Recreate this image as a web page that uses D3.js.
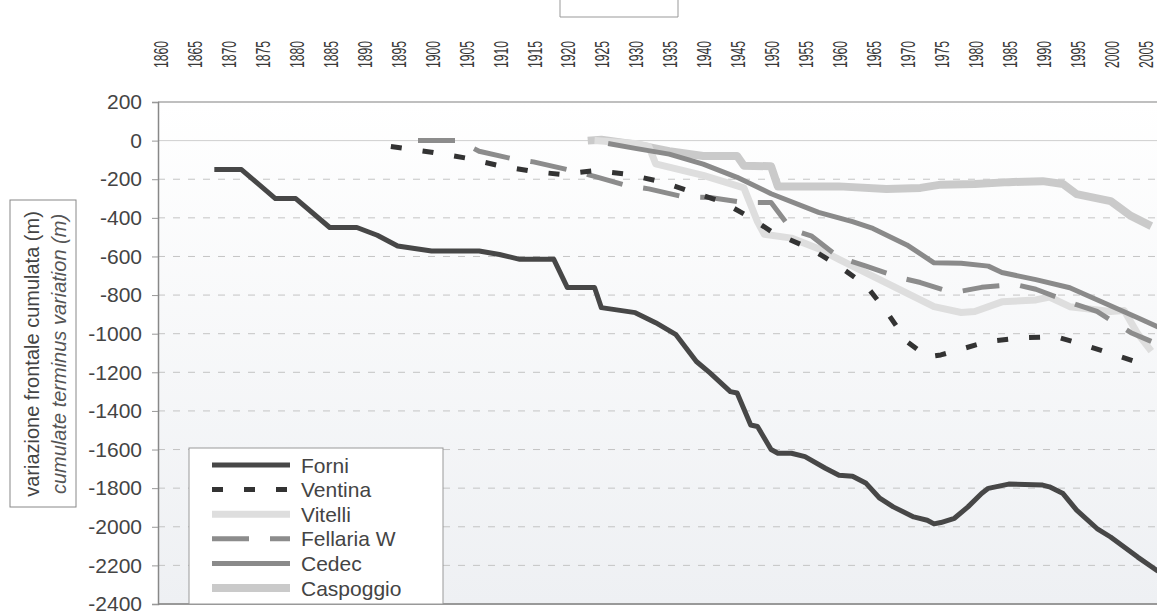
<!DOCTYPE html>
<meta charset="utf-8">
<script src="https://cdn.jsdelivr.net/npm/d3@7"></script>
<style>
  body { margin: 0; background: #fff; }
  text { font-family: "Liberation Sans", Arial, sans-serif; }
</style>
<div id="chart"></div>
<script>

// tick labels
var xTicks = d3.range(1860, 2006, 5);
var yTicks = d3.range(200, -2401, -200);

// series: [year, cumulated frontal variation (m)]
var forni = [[1868,-150],[1872,-150],[1877,-300],[1880,-300],[1885,-450],[1889,-450],[1892,-490],
  [1895,-546],[1900,-572],[1907,-572],[1910,-590],[1913,-615],[1918,-615],[1920,-761],[1924,-761],
  [1925,-865],[1930,-891],[1933,-943],[1936,-1005],[1939,-1144],[1941,-1203],[1944,-1300],[1945,-1307],
  [1947,-1473],[1948,-1481],[1949,-1540],[1950,-1600],[1951,-1619],[1953,-1619],[1955,-1637],
  [1958,-1697],[1960,-1733],[1962,-1738],[1964,-1775],[1966,-1852],[1968,-1897],[1971,-1949],
  [1973,-1966],[1974,-1985],[1975,-1978],[1977,-1956],[1979,-1897],[1981,-1828],[1982,-1801],
  [1985,-1779],[1990,-1784],[1991,-1793],[1993,-1828],[1995,-1914],[1998,-2009],[2000,-2053],
  [2002,-2105],[2004,-2157],[2007,-2230]];

var ventina = [[1894,-30],[1900,-60],[1905,-90],[1910,-130],[1915,-160],[1919,-175],[1924,-155],
  [1929,-175],[1934,-215],[1938,-262],[1943,-320],[1947,-400],[1950,-470],[1956,-563],[1960,-650],
  [1964,-751],[1967,-885],[1970,-1040],[1973,-1120],[1975,-1110],[1978,-1080],[1982,-1040],
  [1987,-1021],[1992,-1016],[1996,-1057],[2001,-1114],[2006,-1170]];

var vitelli = [[1924,0],[1930,-15],[1932,-30],[1933,-120],[1940,-180],[1946,-245],[1948,-420],
  [1949,-485],[1953,-505],[1957,-560],[1960,-615],[1966,-720],[1970,-790],[1974,-860],[1978,-890],
  [1980,-885],[1984,-835],[1989,-825],[1991,-810],[1994,-860],[2000,-885],[2002,-880],[2004,-1000],
  [2006,-1090]];

var fellaria = [[1898,0],[1904,0],[1907,-55],[1912,-95],[1915,-110],[1920,-150],[1924,-185],
  [1929,-235],[1932,-250],[1937,-290],[1941,-295],[1946,-320],[1950,-320],[1953,-460],[1956,-495],
  [1960,-605],[1964,-650],[1969,-710],[1972,-735],[1976,-780],[1978,-780],[1981,-760],[1986,-745],
  [1989,-770],[1995,-850],[1998,-885],[2003,-995],[2006,-1040]];

var cedec = [[1926,-15],[1930,-40],[1935,-70],[1940,-122],[1945,-190],[1950,-275],[1957,-372],
  [1962,-420],[1965,-455],[1970,-540],[1974,-633],[1978,-635],[1982,-650],[1984,-683],[1989,-720],
  [1994,-762],[1999,-840],[2004,-917],[2007,-965]];

var caspoggio = [[1923,0],[1925,5],[1930,-20],[1935,-55],[1940,-80],[1945,-80],[1946,-130],
  [1950,-133],[1951,-237],[1960,-237],[1967,-250],[1972,-245],[1975,-228],[1980,-225],[1985,-215],
  [1990,-210],[1993,-225],[1995,-277],[2000,-313],[2003,-390],[2006,-443]];

var names = ["Forni", "Ventina", "Vitelli", "Fellaria W", "Cedec", "Caspoggio"];

var width = 1157, height = 614;
var plotLeft = 158, plotTop = 102, plotBottom = 604, plotRight = 1157;

var svg = d3.select("#chart").append("svg")
  .attr("width", width)
  .attr("height", height);

var x = d3.scaleLinear().domain([1860, 2005]).range([160, 1144.5]);
var y = d3.scaleLinear().domain([200, -2400]).range([plotTop, plotBottom]);

// plot background, faint gradient like the scan
var defs = svg.append("defs");
var grad = defs.append("linearGradient").attr("id", "bg").attr("x1", 0).attr("y1", 0).attr("x2", 0).attr("y2", 1);
grad.append("stop").attr("offset", "0%").attr("stop-color", "#ffffff");
grad.append("stop").attr("offset", "100%").attr("stop-color", "#eef0f3");
defs.append("clipPath").attr("id", "clip")
  .append("rect").attr("x", plotLeft).attr("y", plotTop)
  .attr("width", plotRight - plotLeft).attr("height", plotBottom - plotTop);

svg.append("rect")
  .attr("x", plotLeft).attr("y", plotTop)
  .attr("width", plotRight - plotLeft).attr("height", plotBottom - plotTop)
  .attr("fill", "url(#bg)");

// gridlines
svg.selectAll(".grid")
  .data(yTicks.filter(function(d) { return d < 200 && d > -2400; }))
  .enter().append("line")
    .attr("x1", plotLeft).attr("x2", plotRight)
    .attr("y1", function(d) { return y(d); })
    .attr("y2", function(d) { return y(d); })
    .attr("stroke", function(d) { return d == 0 ? "#cfcfcf" : "#c4c4c4"; })
    .attr("stroke-width", 1)
    .style("stroke-dasharray", function(d) { return d == 0 ? null : "7,8"; });

// top border and bottom axis
svg.append("line").attr("x1", plotLeft).attr("x2", plotRight).attr("y1", plotTop).attr("y2", plotTop)
  .attr("stroke", "#aaa").attr("stroke-width", 1.5);
svg.append("line").attr("x1", plotLeft).attr("x2", plotRight).attr("y1", plotBottom).attr("y2", plotBottom)
  .attr("stroke", "#999").attr("stroke-width", 2);

// Y axis
var yAxis = svg.append("g")
  .attr("transform", "translate(" + plotLeft + ",0)")
  .call(d3.axisLeft(y).tickValues(yTicks).tickSize(6).tickPadding(10)
    .tickFormat(function(d) { return String(d); }));
yAxis.select(".domain").attr("stroke", "#888").attr("stroke-width", 1.5);
yAxis.selectAll(".tick line").attr("stroke", "#999");
yAxis.selectAll("text")
  .style("font-size", "21px")
  .style("font-family", "Liberation Sans, Arial, sans-serif")
  .attr("fill", "#444");

// X axis labels on top, rotated and condensed
var xAxis = svg.append("g")
  .attr("transform", "translate(0,68)")
  .call(d3.axisTop(x).tickValues(xTicks).tickSize(0).tickFormat(function(d) { return String(d); }));
xAxis.select(".domain").remove();
xAxis.selectAll("text")
  .attr("x", 0).attr("y", 0).attr("dy", "0.36em")
  .attr("text-anchor", "start")
  .attr("transform", "rotate(-90) scale(0.58,1)")
  .style("font-size", "21px")
  .style("font-family", "Liberation Sans, Arial, sans-serif")
  .attr("fill", "#383838");

// y title in a box
svg.append("rect")
  .attr("x", 10).attr("y", 200).attr("width", 66).attr("height", 307)
  .attr("fill", "none").attr("stroke", "#888").attr("stroke-width", 1);
svg.append("text")
  .attr("transform", "translate(39,354) rotate(-90)")
  .attr("text-anchor", "middle")
  .style("font-size", "20px")
  .attr("fill", "#444")
  .text("variazione frontale cumulata (m)");
svg.append("text")
  .attr("transform", "translate(66,354) rotate(-90)")
  .attr("text-anchor", "middle")
  .style("font-size", "20px")
  .style("font-style", "italic")
  .attr("fill", "#555")
  .text("cumulate terminus variation (m)");

// cut-off box at the top
svg.append("path")
  .attr("d", "M560,0V17H678V0")
  .attr("fill", "none").attr("stroke", "#999").attr("stroke-width", 1);

// series styles
var styles = {
  "Forni":      { data: forni,     color: "#474747", w: 5, dash: null },
  "Ventina":    { data: ventina,   color: "#333333", w: 5, dash: "11,21" },
  "Vitelli":    { data: vitelli,   color: "#dedede", w: 7, dash: null },
  "Fellaria W": { data: fellaria,  color: "#8c8c8c", w: 5, dash: "37,21" },
  "Cedec":      { data: cedec,     color: "#8a8a8a", w: 5, dash: null },
  "Caspoggio":  { data: caspoggio, color: "#cacaca", w: 8, dash: null }
};

var line = d3.line()
  .x(function(d) { return x(d[0]); })
  .y(function(d) { return y(d[1]); });

var plot = svg.append("g").attr("clip-path", "url(#clip)");
["Caspoggio", "Vitelli", "Cedec", "Fellaria W", "Ventina", "Forni"].forEach(function(n) {
  var s = styles[n];
  plot.append("path")
    .datum(s.data)
    .attr("fill", "none")
    .attr("stroke", s.color)
    .attr("stroke-width", s.w)
    .attr("stroke-linejoin", "round")
    .style("stroke-dasharray", s.dash)
    .attr("d", line);
});

// legend
svg.append("rect")
  .attr("x", 189).attr("y", 448).attr("width", 254).attr("height", 156)
  .attr("fill", "white").attr("stroke", "#999").attr("stroke-width", 1);

names.forEach(function(n, i) {
  var s = styles[n];
  var ly = 465 + i * 24.6;
  svg.append("line")
    .attr("x1", 212).attr("x2", 290)
    .attr("y1", ly).attr("y2", ly)
    .attr("stroke", s.color)
    .attr("stroke-width", s.w)
    .style("stroke-dasharray", s.dash);
  svg.append("text")
    .attr("x", 301).attr("y", ly).attr("dy", "0.36em")
    .style("font-size", "21px")
    .attr("fill", "#444")
    .text(n);
});

</script>
